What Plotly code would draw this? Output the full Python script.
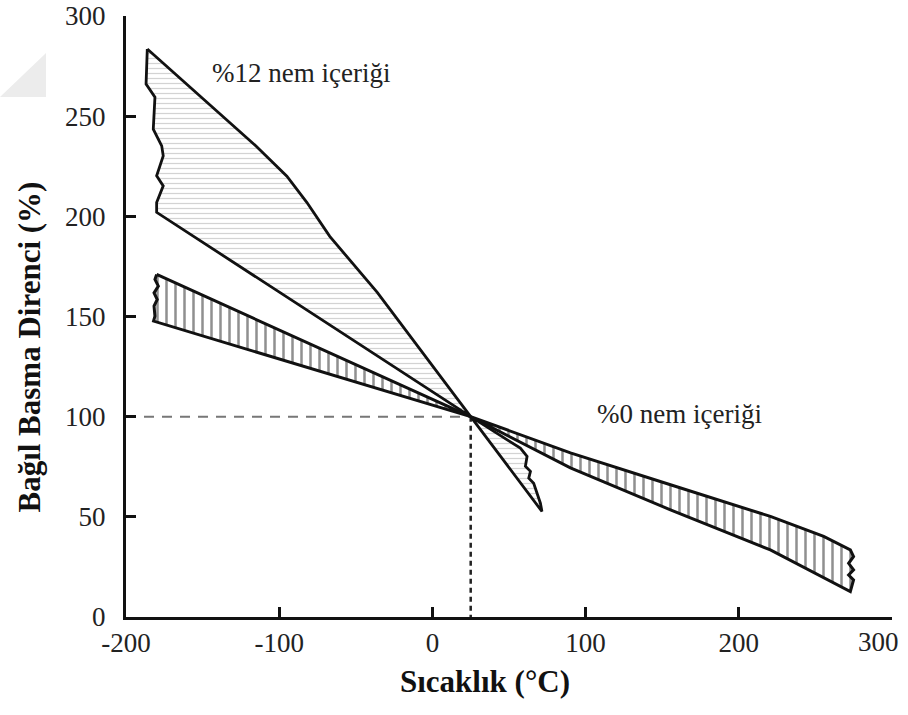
import plotly.graph_objects as go

# ---------------- data ----------------
# %12 moisture band: outline polygon (upper line -> tip -> wavy right edge -> lower line -> wavy left edge)
m12_x = [-186.1, -134.3, -115.0, -95.0, -82.0, -67.0, -36.0, 25.0, 71.5,
         70.5, 68.3, 66.1, 62.9, 64.0, 60.7, 61.8, 57.4,
         25.0, -180.0,
         -180.0, -175.7, -180.0, -175.7, -176.7, -182.2, -181.1, -186.9, -186.5, -186.1]
m12_y = [283.5, 248.5, 235.0, 220.0, 207.0, 190.0, 162.0, 100.0, 52.7,
         56.8, 61.8, 66.8, 69.3, 72.7, 75.2, 80.2, 84.3,
         100.0, 202.0,
         206.9, 215.2, 220.2, 230.2, 235.2, 243.5, 259.5, 266.0, 277.7, 283.5]

# %0 moisture band: outline polygon
m0_x = [-180.0, 25.0, 90.1, 155.4, 220.6, 272.8,
        274.9, 271.7, 274.9, 271.7, 274.9, 272.8,
        255.4, 220.6, 155.4, 90.1, 25.0, -182.0,
        -181.1, -181.7, -179.6, -181.7, -178.9, -181.1, -180.0]
m0_y = [171.0, 100.0, 74.4, 53.5, 33.5, 12.7,
        18.5, 21.0, 23.5, 26.8, 30.2, 33.5,
        40.2, 50.2, 66.0, 81.9, 100.0, 147.7,
        150.2, 155.2, 158.5, 161.8, 165.2, 168.5, 171.0]

# reference (dashed) lines through the common point
ref_h_x = [-200, 25]
ref_h_y = [100, 100]
ref_v_x = [25, 25]
ref_v_y = [100, 0]

x_ticks = [-200, -100, 0, 100, 200, 300]
x_ticktext = ["-200", "-100", "0", "100", "200", ""]   # last label drawn right-aligned below
x_last_label = "300"
y_ticks = [0, 50, 100, 150, 200, 250, 300]
y_ticktext = ["0", "50", "100", "150", "200", "250", "300"]

label_12 = "%12 nem içeriği"
label_12_pos = (-85.5, 271.5)
label_0 = "%0 nem içeriği"
label_0_pos = (161.0, 101.5)

x_title = "Sıcaklık (°C)"
y_title = "Bağıl Basma Direnci (%)"

FONT = "Liberation Serif, Times New Roman, Times, DejaVu Serif, serif"

fig = go.Figure()

fig.add_trace(go.Scatter(
    x=ref_h_x, y=ref_h_y, mode="lines",
    line=dict(color="#777777", width=2, dash="10px,8px"),
    hoverinfo="skip", showlegend=False))
fig.add_trace(go.Scatter(
    x=ref_v_x, y=ref_v_y, mode="lines",
    line=dict(color="#222222", width=2.5, dash="5px,4px"),
    hoverinfo="skip", showlegend=False))

fig.add_trace(go.Scatter(
    x=m0_x, y=m0_y, mode="lines", fill="toself",
    fillcolor="rgba(0,0,0,0)",
    fillpattern=dict(shape="|", size=9, solidity=0.28, fgcolor="#222222", bgcolor="white"),
    line=dict(color="#111111", width=3),
    showlegend=False))

fig.add_trace(go.Scatter(
    x=m12_x, y=m12_y, mode="lines", fill="toself",
    fillcolor="rgba(0,0,0,0)",
    fillpattern=dict(shape="-", size=5, solidity=0.25, fgcolor="#a8a8a8", bgcolor="white"),
    line=dict(color="#111111", width=2.8),
    showlegend=False))

fig.add_annotation(x=label_12_pos[0], y=label_12_pos[1], text=label_12, showarrow=False,
                   font=dict(family=FONT, size=27, color="#222222"))
fig.add_annotation(x=label_0_pos[0], y=label_0_pos[1], text=label_0, showarrow=False,
                   font=dict(family=FONT, size=27, color="#222222"))

# last x tick label, kept inside the page
fig.add_annotation(x=x_ticks[-1], xref="x", y=0, yref="paper", text=x_last_label,
                   showarrow=False, xanchor="right", yanchor="middle", xshift=9, yshift=-25,
                   font=dict(family=FONT, size=27, color="#222222"))

# axis titles
fig.add_annotation(xref="paper", yref="paper", x=0.4687, y=-0.108, text="<b>" + x_title + "</b>",
                   showarrow=False, xanchor="center", yanchor="middle",
                   font=dict(family=FONT, size=31, color="#111111"))
fig.add_annotation(xref="paper", yref="paper", x=-0.1266, y=0.4484, text="<b>" + y_title + "</b>",
                   showarrow=False, textangle=-90, xanchor="center", yanchor="middle",
                   font=dict(family=FONT, size=31, color="#111111"))

# faint grey corner artefact of the scanned original
fig.add_shape(type="path", xref="paper", yref="paper",
              path="M -0.1044 0.9384 L -0.1044 0.8652 L -0.1645 0.8652 Z",
              fillcolor="#ececec", line=dict(width=0), layer="below")

axis_common = dict(showgrid=False, zeroline=False, showline=True, linewidth=3,
                   linecolor="#111111", ticks="inside", ticklen=10, tickwidth=3,
                   tickcolor="#111111", ticklabeloverflow="allow",
                   tickfont=dict(family=FONT, size=27, color="#222222"))

fig.update_xaxes(range=[-200, 300], tickvals=x_ticks, ticktext=x_ticktext,
                 ticklabelstandoff=0, **axis_common)
fig.update_yaxes(range=[0, 300], tickvals=y_ticks, ticktext=y_ticktext,
                 ticklabelstandoff=12, **axis_common)

fig.update_layout(width=908, height=715, margin=dict(l=126, r=16, t=16, b=98, autoexpand=False),
                  plot_bgcolor="white", paper_bgcolor="white", showlegend=False,
                  font=dict(family=FONT))

fig.write_html("out.html", config={"displayModeBar": False},
               post_script="document.body.style.margin='0';document.body.style.overflow='hidden';")
